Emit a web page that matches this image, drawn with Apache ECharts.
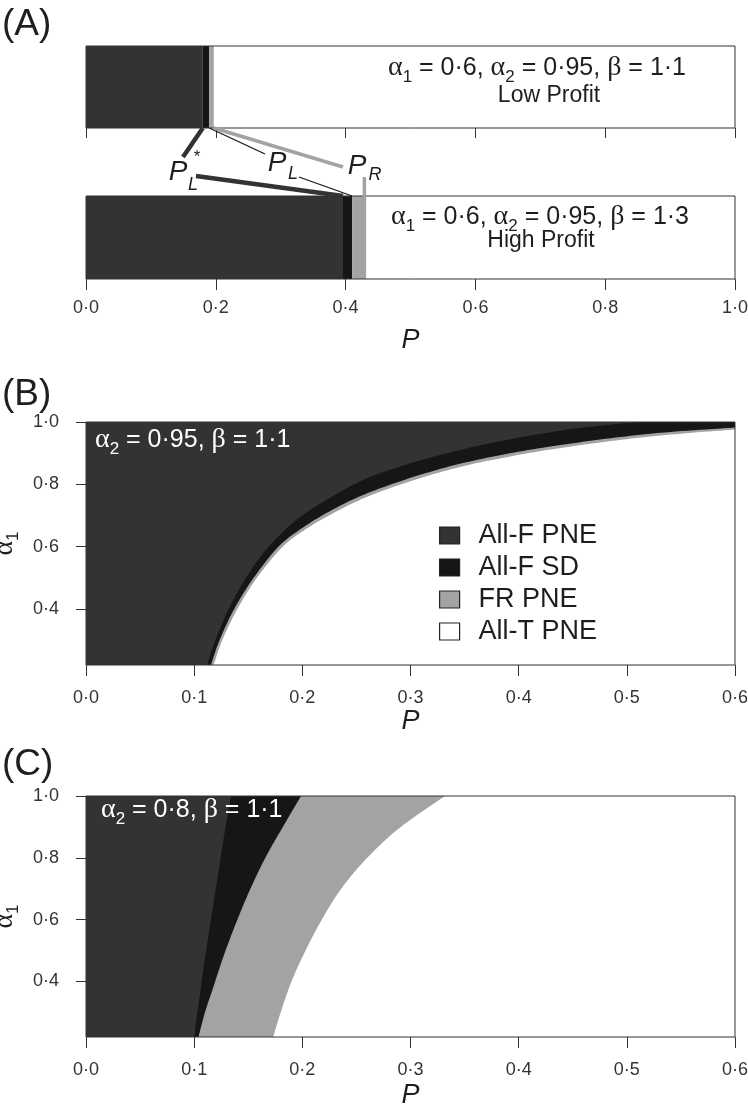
<!DOCTYPE html>
<html><head><meta charset="utf-8">
<script src="https://cdn.jsdelivr.net/npm/echarts@6/dist/echarts.min.js"></script>
<style>html,body{margin:0;padding:0;background:#fff}#c{width:748px;height:1109px}</style>
</head><body><div id="c"></div>
<script>
// ---------- DATA ----------
// Panel A: bar categories and the P values where each region ends (All-F PNE | All-F SD | FR PNE), rest = All-T PNE
const barCategories = ['Low Profit', 'High Profit'];
const lowProfitBounds = [0.180, 0.190, 0.197];
const highProfitBounds = [0.396, 0.410, 0.432];
const regionNames = ['All-F PNE', 'All-F SD', 'FR PNE', 'All-T PNE'];
const ticksAx = [0, 0.2, 0.4, 0.6, 0.8, 1.0];
const ticksBCx = [0, 0.1, 0.2, 0.3, 0.4, 0.5, 0.6];
const ticksBCy = [0.4, 0.6, 0.8, 1.0];
// Panel B boundaries, points [P, alpha1]
const bDarkBlack = [[0.112,0.22],[0.1195,0.30],[0.132,0.40],[0.148,0.50],[0.169,0.60],[0.200,0.70],[0.248,0.80],[0.284,0.85],[0.334,0.90],[0.388,0.942],[0.440,0.973],[0.475,0.988],[0.512,1.0]];
const bBlackGray = [[0.1155,0.22],[0.1235,0.30],[0.137,0.40],[0.155,0.50],[0.178,0.60],[0.200,0.66],[0.225,0.713],[0.255,0.764],[0.295,0.815],[0.340,0.861],[0.385,0.895],[0.425,0.919],[0.485,0.948],[0.540,0.968],[0.600,0.982]];
const bGrayWhite = [[0.118,0.22],[0.126,0.30],[0.140,0.40],[0.158,0.50],[0.182,0.60],[0.205,0.66],[0.230,0.71],[0.260,0.76],[0.300,0.81],[0.345,0.855],[0.390,0.888],[0.430,0.912],[0.490,0.941],[0.545,0.961],[0.600,0.976]];
// Panel C boundaries, points [P, alpha1]
const cDarkBlack = [[0.100,0.22],[0.103,0.30],[0.107,0.40],[0.111,0.50],[0.1155,0.60],[0.120,0.70],[0.1245,0.80],[0.129,0.90],[0.134,1.0]];
const cBlackGray = [[0.104,0.22],[0.110,0.30],[0.117,0.374],[0.127,0.48],[0.1387,0.589],[0.152,0.70],[0.1664,0.804],[0.182,0.90],[0.1988,1.0]];
const cGrayWhite = [[0.173,0.22],[0.180,0.30],[0.190,0.40],[0.203,0.50],[0.218,0.60],[0.236,0.70],[0.260,0.80],[0.291,0.90],[0.332,1.0]];

// ---------- STYLE ----------
const FONT = 'Liberation Sans';
const SERIF = 'Liberation Serif';
const regionColors = ['#333333', '#161616', '#a3a3a3', '#ffffff'];
const INK = '#1e1e1e';
const fmt = v => v.toFixed(1).replace('.', '\u00b7');

function richSet(size, color) {
  const sub = Math.round(size * 0.66);
  return {
    t: {fontFamily: FONT, fontSize: size, color, lineHeight: size + 10},
    g: {fontFamily: SERIF, fontSize: size + 3, color, lineHeight: size + 10},
    s: {fontFamily: FONT, fontSize: sub, color, lineHeight: sub - 2, verticalAlign: 'bottom'}
  };
}

const gridBox = {left: 86, right: 13, show: true, borderColor: '#333', borderWidth: 1, backgroundColor: 'transparent', z: 5, outerBoundsMode: 'none', containLabel: false};
const grids = [
  Object.assign({top: 46, height: 82}, gridBox),
  Object.assign({top: 196, height: 83}, gridBox),
  Object.assign({top: 422, height: 243}, gridBox),
  Object.assign({top: 796, height: 241}, gridBox)
];

function xAxisCfg(gi, max, interval, showLabel, tickLen, margin, nameGap) {
  return {
    gridIndex: gi, type: 'value', min: 0, max, interval,
    axisLine: {show: false},
    axisTick: {show: true, length: tickLen, lineStyle: {color: '#333', width: 1}},
    splitLine: {show: false},
    axisLabel: {show: showLabel, formatter: fmt, fontFamily: FONT, fontSize: 18, color: '#333', margin},
    name: showLabel ? 'P' : '', nameLocation: 'middle', nameGap,
    nameTextStyle: {fontFamily: FONT, fontStyle: 'italic', fontSize: 27, color: INK}
  };
}
function yAxisVal(gi) {
  return {
    gridIndex: gi, type: 'value', min: 0.22, max: 1.0,
    axisLine: {show: false},
    axisTick: {show: true, length: 10, customValues: ticksBCy, lineStyle: {color: '#333'}},
    splitLine: {show: false},
    axisLabel: {customValues: ticksBCy, formatter: fmt, fontFamily: FONT, fontSize: 18, color: '#333', margin: 27},
    name: '{g|\u03b1}{s|1}', nameLocation: 'middle', nameGap: 50, nameRotate: 90,
    nameTextStyle: {rich: richSet(25, INK)}
  };
}
function yAxisCat(gi, cat) {
  return {gridIndex: gi, type: 'category', data: [cat], show: false};
}

// bar segments for panel A
function barSeries(gi, bounds) {
  const ends = bounds.concat([1.0]);
  return ends.map((e, i) => ({
    type: 'bar', name: regionNames[i], xAxisIndex: gi, yAxisIndex: gi, stack: 'bar' + gi,
    barWidth: '100%', silent: true, legendHoverLink: false,
    itemStyle: {color: regionColors[i]},
    data: [e - (i ? ends[i - 1] : 0)]
  }));
}

// Catmull-Rom smoothing of the boundary in pixel space (drawing only)
function smoothPixels(pts) {
  const out = [pts[0]];
  for (let i = 0; i < pts.length - 1; i++) {
    const p0 = pts[i - 1] || pts[i], p1 = pts[i], p2 = pts[i + 1], p3 = pts[i + 2] || pts[i + 1];
    for (let k = 1; k <= 12; k++) {
      const t = k / 12, t2 = t * t, t3 = t2 * t;
      const f = (a, b, c, d) => 0.5 * ((2 * b) + (-a + c) * t + (2 * a - 5 * b + 4 * c - d) * t2 + (-a + 3 * b - 3 * c + d) * t3);
      out.push([f(p0[0], p1[0], p2[0], p3[0]), f(p0[1], p1[1], p2[1], p3[1])]);
    }
  }
  return out;
}

// region polygons for panels B/C: region left of a boundary curve
function regionSeries(idx, gi, curve, xMax) {
  return {
    type: 'custom', name: regionNames[idx], xAxisIndex: gi, yAxisIndex: gi, silent: true, clip: true,
    itemStyle: {color: regionColors[idx], borderColor: '#222', borderWidth: 1.2},
    data: [[0, 0.22]],
    renderItem(params, api) {
      const yMin = 0.22, yMax = 1.0;
      let pts;
      if (curve) {
        const c = smoothPixels(curve.map(p => api.coord(p)));
        pts = [api.coord([0, yMin])].concat(c);
        const last = curve[curve.length - 1];
        if (last[1] < yMax) pts.push(api.coord([last[0], yMax]));
        pts.push(api.coord([0, yMax]));
      } else {
        pts = [[0, yMin], [xMax, yMin], [xMax, yMax], [0, yMax]].map(p => api.coord(p));
      }
      return {type: 'polygon', shape: {points: pts}, style: {fill: regionColors[idx]}};
    }
  };
}
function panelSeries(gi, c1, c2, c3) {
  return [
    regionSeries(3, gi, null, 0.6),
    regionSeries(2, gi, c3),
    regionSeries(1, gi, c2),
    regionSeries(0, gi, c1)
  ];
}

const option = {
  animation: false,
  backgroundColor: '#fff',
  grid: grids,
  xAxis: [
    xAxisCfg(0, 1.0, 0.2, false, 10, 20, 0),
    xAxisCfg(1, 1.0, 0.2, true, 11, 20, 48),
    xAxisCfg(2, 0.6, 0.1, true, 11, 24, 40),
    xAxisCfg(3, 0.6, 0.1, true, 11, 24, 45)
  ],
  yAxis: [yAxisCat(0, barCategories[0]), yAxisCat(1, barCategories[1]), yAxisVal(2), yAxisVal(3)],
  legend: {
    left: 434, top: 517, orient: 'vertical', icon: 'rect', itemWidth: 20, itemHeight: 17, itemGap: 5,
    selectedMode: false, data: regionNames,
    itemStyle: {borderColor: '#222', borderWidth: 1.2},
    textStyle: {fontFamily: FONT, fontSize: 27, color: INK, padding: [0, 0, 0, 14]}
  },
  series: [].concat(
    barSeries(0, lowProfitBounds),
    barSeries(1, highProfitBounds),
    panelSeries(2, bDarkBlack, bBlackGray, bGrayWhite),
    panelSeries(3, cDarkBlack, cBlackGray, cGrayWhite)
  )
};

const chart = echarts.init(document.getElementById('c'));
chart.setOption(option);

// ---------- annotations ----------
const px = (gi, v) => chart.convertToPixel({xAxisIndex: gi}, v);
const topBarBottom = grids[0].top + grids[0].height;
const lowBarTop = grids[1].top;
const lp = lowProfitBounds.map(v => px(0, v));
const hp = highProfitBounds.map(v => px(1, v));

function line(x1, y1, x2, y2, color, w) {
  return {type: 'line', z: 20, shape: {x1, y1, x2, y2}, style: {stroke: color, lineWidth: w, lineCap: 'butt'}};
}
function txt(x, y, text, size, opts) {
  return {type: 'text', z: 20, x, y, style: Object.assign({text, fontFamily: FONT, fontSize: size, fill: INK, align: 'center', verticalAlign: 'middle'}, opts || {})};
}
function richTxt(x, y, text, size, color, align) {
  return {type: 'text', z: 20, x, y, style: {text, rich: richSet(size, color), fill: color, align: align || 'center', verticalAlign: 'middle'}};
}
const it = {fontStyle: 'italic'};

chart.setOption({
  graphic: [
    txt(2, 25, '(A)', 37, {align: 'left'}),
    txt(2, 395, '(B)', 37, {align: 'left'}),
    txt(2, 765, '(C)', 37, {align: 'left'}),
    richTxt(537, 68, '{g|\u03b1}{s|1}{t| = 0\u00b76, }{g|\u03b1}{s|2}{t| = 0\u00b795, }{g|\u03b2}{t| = 1\u00b71}', 25, INK),
    txt(549, 96, barCategories[0], 23),
    richTxt(540, 217, '{g|\u03b1}{s|1}{t| = 0\u00b76, }{g|\u03b1}{s|2}{t| = 0\u00b795, }{g|\u03b2}{t| = 1\u00b73}', 25, INK),
    txt(541, 241, barCategories[1], 23),
    richTxt(95, 440, '{g|\u03b1}{s|2}{t| = 0\u00b795, }{g|\u03b2}{t| = 1\u00b71}', 25, '#ffffff', 'left'),
    richTxt(101, 810, '{g|\u03b1}{s|2}{t| = 0\u00b78, }{g|\u03b2}{t| = 1\u00b71}', 25, '#ffffff', 'left'),
    // leader lines, top bar
    line(lp[0], topBarBottom, 183, 157, '#333333', 4.5),
    line(lp[1], topBarBottom, 265, 154, '#161616', 1.3),
    line(lp[2], topBarBottom, 343, 167, '#a3a3a3', 3.5),
    // leader lines, bottom bar
    line(196, 176, hp[0], lowBarTop, '#333333', 4.5),
    line(299, 177, hp[1], lowBarTop, '#161616', 1.3),
    line(hp[2] - 2, 177, hp[2] - 2, lowBarTop + 2, '#a3a3a3', 3.5),
    // labels
    txt(178, 172, 'P', 28, it), txt(193, 185, 'L', 18, it), txt(197, 157, '*', 17),
    txt(277, 163, 'P', 28, it), txt(293, 174, 'L', 18, it),
    txt(357, 166, 'P', 28, it), txt(375, 175, 'R', 18, it)
  ]
});
</script></body></html>
